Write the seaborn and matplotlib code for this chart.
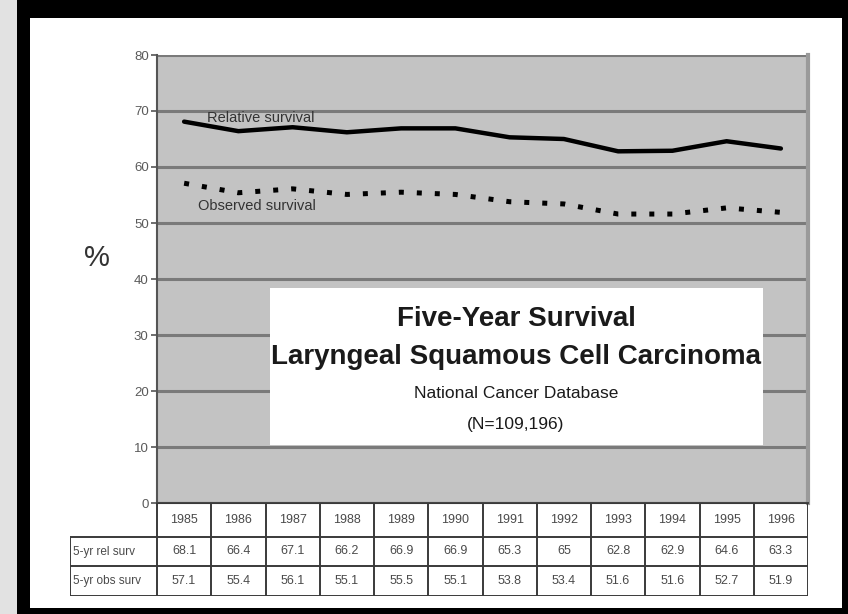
import matplotlib
matplotlib.use("Agg")
import matplotlib.pyplot as plt
import pandas as pd
import seaborn as sns
from matplotlib.patches import Rectangle

# Data
years = [1985, 1986, 1987, 1988, 1989, 1990, 1991, 1992, 1993, 1994, 1995, 1996]
rel_surv = [68.1, 66.4, 67.1, 66.2, 66.9, 66.9, 65.3, 65, 62.8, 62.9, 64.6, 63.3]
obs_surv = [57.1, 55.4, 56.1, 55.1, 55.5, 55.1, 53.8, 53.4, 51.6, 51.6, 52.7, 51.9]
row_labels = ["5-yr rel surv", "5-yr obs surv"]
y_ticks = [0, 10, 20, 30, 40, 50, 60, 70, 80]
title_lines = ["Five-Year Survival", "Laryngeal Squamous Cell Carcinoma",
               "National Cancer Database", "(N=109,196)"]

sns.set_theme(style="white")
plt.rcParams["font.family"] = ["Liberation Sans", "DejaVu Sans"]
NARROW = ["Liberation Sans Narrow", "Liberation Sans", "DejaVu Sans"]

W, H = 848, 614
fig = plt.figure(figsize=(W / 100, H / 100), dpi=100)
fig.patch.set_facecolor("#e2e2e2")


def fx(px):
    return px / W


def fy(py):
    return 1 - py / H


# slide frame: black border around a white panel (behind the axes)
fig.patches.append(Rectangle((fx(17), 0), 1 - fx(17), 1, transform=fig.transFigure,
                             facecolor="black", edgecolor="none", zorder=-3))
fig.patches.append(Rectangle((fx(30), fy(608)), fx(842) - fx(30), fy(18) - fy(608),
                             transform=fig.transFigure, facecolor="white",
                             edgecolor="none", zorder=-2))

# main plot area
ax = fig.add_axes([fx(157), fy(503), fx(808) - fx(157), fy(55) - fy(503)])
ax.set_facecolor("#c3c3c3")

df = pd.DataFrame({"pos": range(len(years)), "year": years,
                   "rel": rel_surv, "obs": obs_surv})
sns.lineplot(data=df, x="pos", y="rel", ax=ax, color="black", lw=3.2,
             solid_joinstyle="round", zorder=4)
sns.lineplot(data=df, x="pos", y="obs", ax=ax, color="black", lw=3.6,
             linestyle=(0, (1, 2.6)), dash_capstyle="butt", zorder=4)

ax.set_xlim(-0.5, len(years) - 0.5)
ax.set_ylim(0, 80)
ax.set_xticks([])
ax.set_yticks(y_ticks)
ax.set_yticklabels([str(t) for t in y_ticks], family=NARROW, fontsize=9.5, color="#5a5a5a")
ax.yaxis.grid(True, color="#7a7a7a", lw=2.2)
ax.set_axisbelow(True)
ax.tick_params(axis="y", which="both", left=True, length=4, width=1.2, color="#555555", pad=2)
ax.set_xlabel("")
ax.set_ylabel("")
ax.spines["top"].set_visible(False)
ax.spines["left"].set_color("#555555")
ax.spines["left"].set_linewidth(1.5)
ax.spines["bottom"].set_color("#444444")
ax.spines["bottom"].set_linewidth(1.5)
ax.spines["right"].set_color("#9a9a9a")
ax.spines["right"].set_linewidth(3)

ax.text(0.42, 68.7, "Relative survival", family=NARROW, fontsize=10.5, color="#333333",
        ha="left", va="center", zorder=5)
ax.text(0.26, 53.1, "Observed survival", family=NARROW, fontsize=10.5, color="#333333",
        ha="left", va="center", zorder=5)

fig.text(fx(97), fy(258), "%", fontsize=21, color="#333333", ha="center", va="center")

# title box
fig.patches.append(Rectangle((fx(270), fy(445)), fx(763) - fx(270), fy(288) - fy(445),
                             transform=fig.transFigure, facecolor="white",
                             edgecolor="none", zorder=6))
title_y = [319, 357, 394, 424]
title_sizes = [20, 20, 12.5, 12.5]
title_weights = ["bold", "bold", "normal", "normal"]
for txt, yy, fs, fw in zip(title_lines, title_y, title_sizes, title_weights):
    fig.text(fx(516), fy(yy), txt, fontsize=fs, fontweight=fw, color="#1a1a1a",
             ha="center", va="center", zorder=7)

# data table under the axis
n = len(years)
col_w = (808 - 157) / n
hdr_cols = (157 - 70) / col_w
tab = fig.add_axes([fx(70), fy(596), fx(808) - fx(70), fy(503) - fy(596)])
tab.set_xlim(-0.5 - hdr_cols, n - 0.5)
row_edges = [0, 34, 63, 93]
tab.set_ylim(row_edges[-1], 0)
tab.axis("off")
lc = "#3a3a3a"
tab.hlines(row_edges[0], -0.5, n - 0.5, color=lc, lw=1.4)
tab.hlines(row_edges[1:], -0.5 - hdr_cols, n - 0.5, color=lc, lw=1.4)
tab.vlines([i - 0.5 for i in range(n + 1)], row_edges[0], row_edges[-1], color=lc, lw=1.4)
tab.vlines(-0.5 - hdr_cols, row_edges[1], row_edges[-1], color=lc, lw=1.4)

row_mid = [(row_edges[i] + row_edges[i + 1]) / 2 for i in range(3)]
cell_kw = dict(family=NARROW, fontsize=9, color="#4a4a4a", ha="center", va="center")
for i, yr in enumerate(years):
    tab.text(i, row_mid[0], str(yr), **cell_kw)
    tab.text(i, row_mid[1], f"{rel_surv[i]:g}", **cell_kw)
    tab.text(i, row_mid[2], f"{obs_surv[i]:g}", **cell_kw)
for r, lab in enumerate(row_labels):
    tab.text(-0.5 - hdr_cols + 0.05, row_mid[r + 1], lab, family=NARROW, fontsize=8.5,
             color="#4a4a4a", ha="left", va="center")

fig.savefig("out.png", dpi=100, facecolor=fig.get_facecolor())
